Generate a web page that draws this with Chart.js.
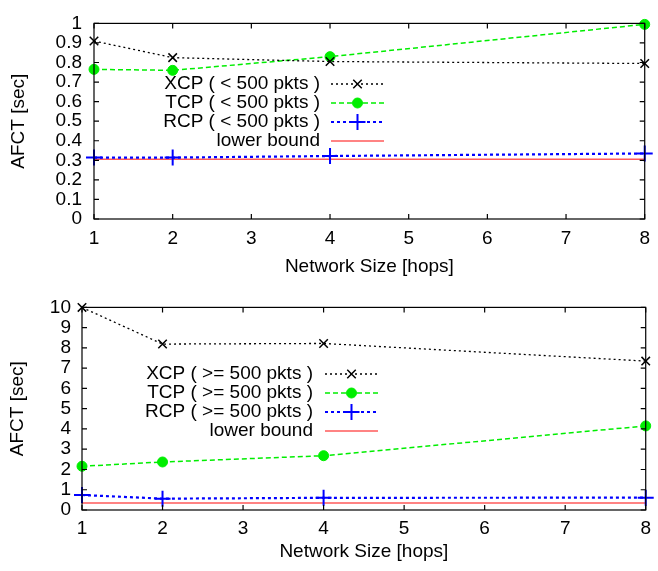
<!DOCTYPE html>
<html>
<head>
<meta charset="utf-8">
<script src="https://cdn.jsdelivr.net/npm/chart.js@4.4.1/dist/chart.umd.min.js"></script>
<style>
  html, body { margin: 0; padding: 0; background: #fff; }
  .box { position: absolute; left: 0; }
</style>
</head>
<body>
<div class="box" style="top:0"><canvas id="smallChart" width="658" height="285"></canvas></div>
<div class="box" style="top:285px"><canvas id="largeChart" width="658" height="286"></canvas></div>
<script>
// dados
const hops = [1, 2, 4, 8];
const xTicks = [1, 2, 3, 4, 5, 6, 7, 8];

const xcpSmall = [0.91, 0.825, 0.805, 0.795];
const tcpSmall = [0.765, 0.76, 0.83, 0.995];
const rcpSmall = [0.314, 0.314, 0.322, 0.335];
const lowerSmall = [0.305, 0.305, 0.305, 0.305];
const yTicksSmall = ['0', '0.1', '0.2', '0.3', '0.4', '0.5', '0.6', '0.7', '0.8', '0.9', '1'];

const xcpLarge = [10, 8.19, 8.22, 7.35];
const tcpLarge = [2.16, 2.37, 2.68, 4.15];
const rcpLarge = [0.74, 0.56, 0.6, 0.61];
const lowerLarge = [0.35, 0.35, 0.35, 0.35];
const yTicksLarge = ['0', '1', '2', '3', '4', '5', '6', '7', '8', '9', '10'];

const labelsSmall = ['XCP ( < 500 pkts )', 'TCP ( < 500 pkts )', 'RCP ( < 500 pkts )', 'lower bound'];
const labelsLarge = ['XCP ( >= 500 pkts )', 'TCP ( >= 500 pkts )', 'RCP ( >= 500 pkts )', 'lower bound'];

const FONT = { family: '"Liberation Sans", Arial, sans-serif', size: 19 };

const styles = [
    { color: '#000000', dash: [2, 3], width: 1.3, point: 'crossRot', radius: 6, pw: 1.5 },
    { color: '#00ee00', dash: [5, 3], width: 1.5, point: 'circle', radius: 5, pw: 1 },
    { color: '#0000ff', dash: [3, 3], width: 2.2, point: 'cross', radius: 8, pw: 2 },
    { color: '#ff5a5a', dash: [], width: 1.5, point: false, radius: 0, pw: 1 }
];

function makeDatasets(series, labels) {
    return series.map((vals, i) => {
        const s = styles[i];
        return {
            label: labels[i],
            data: hops.map((h, j) => ({ x: h, y: vals[j] })),
            borderColor: s.color,
            backgroundColor: s.color,
            borderDash: s.dash,
            borderWidth: s.width,
            pointStyle: s.point,
            pointRadius: s.radius,
            pointBorderWidth: s.pw,
            pointBorderColor: s.color,
            pointBackgroundColor: s.color,
            tension: 0,
            clip: false
        };
    });
}

// moldura com ticks para dentro (estilo gnuplot)
const framePlugin = {
    id: 'frame',
    afterDraw(chart) {
        const ctx = chart.ctx, a = chart.chartArea;
        const xs = chart.scales.x, ys = chart.scales.y;
        ctx.save();
        ctx.strokeStyle = '#000';
        ctx.lineWidth = 1.2;
        ctx.setLineDash([]);
        ctx.strokeRect(a.left, a.top, a.right - a.left, a.bottom - a.top);
        const t = 5;
        ctx.beginPath();
        xs.ticks.forEach(tk => {
            const px = xs.getPixelForValue(tk.value);
            ctx.moveTo(px, a.bottom); ctx.lineTo(px, a.bottom - t);
            ctx.moveTo(px, a.top); ctx.lineTo(px, a.top + t);
        });
        ys.ticks.forEach(tk => {
            const py = ys.getPixelForValue(tk.value);
            ctx.moveTo(a.left, py); ctx.lineTo(a.left + t, py);
            ctx.moveTo(a.right, py); ctx.lineTo(a.right - t, py);
        });
        ctx.stroke();
        ctx.restore();
    }
};

// legenda estilo gnuplot
const keyPlugin = {
    id: 'gkey',
    afterDraw(chart, args, opts) {
        const ctx = chart.ctx;
        ctx.save();
        ctx.font = FONT.size + 'px ' + FONT.family;
        ctx.textAlign = 'right';
        ctx.textBaseline = 'middle';
        chart.data.datasets.forEach((ds, i) => {
            const y = opts.top + i * opts.step;
            ctx.fillStyle = '#000';
            ctx.fillText(ds.label, opts.textRight, y);
            const s = styles[i];
            ctx.strokeStyle = s.color;
            ctx.fillStyle = s.color;
            ctx.lineWidth = s.width;
            ctx.setLineDash(s.dash);
            ctx.beginPath();
            ctx.moveTo(opts.lineStart, y);
            ctx.lineTo(opts.lineEnd, y);
            ctx.stroke();
            ctx.setLineDash([]);
            if (s.point) {
                const mx = (opts.lineStart + opts.lineEnd) / 2;
                ctx.lineWidth = s.pw;
                Chart.helpers.drawPoint(ctx, { pointStyle: s.point, radius: s.radius, borderWidth: s.pw, rotation: 0 }, mx, y);
            }
        });
        ctx.restore();
    }
};

function buildChart(id, series, labels, yMax, yStep, yLabels, lay) {
    new Chart(document.getElementById(id), {
        type: 'line',
        data: { datasets: makeDatasets(series, labels) },
        options: {
            responsive: false,
            animation: false,
            layout: { padding: { left: 0, top: lay.top, right: 9, bottom: 0 } },
            plugins: {
                legend: { display: false },
                tooltip: { enabled: false },
                gkey: lay.key
            },
            scales: {
                x: {
                    type: 'linear', min: 1, max: 8,
                    afterBuildTicks: sc => { sc.ticks = xTicks.map(v => ({ value: v })); },
                    afterFit: sc => { sc.height = lay.xh; },
                    grid: { display: false, drawTicks: false, tickLength: 0 },
                    border: { display: false },
                    ticks: { color: '#000', font: FONT, padding: lay.xpad, maxRotation: 0, autoSkip: false, callback: v => String(v) },
                    title: { display: true, text: 'Network Size [hops]', color: '#000', font: FONT, padding: { top: 0, bottom: lay.xtpad } }
                },
                y: {
                    min: 0, max: yMax,
                    afterBuildTicks: sc => { sc.ticks = yLabels.map((l, i) => ({ value: i * yStep })); },
                    afterFit: sc => { sc.width = lay.yw; },
                    grid: { display: false, drawTicks: false, tickLength: 0 },
                    border: { display: false },
                    ticks: { color: '#000', font: FONT, padding: lay.ypad, autoSkip: false, callback: (v, i) => yLabels[i] },
                    title: { display: true, text: 'AFCT [sec]', color: '#000', font: FONT, padding: { top: lay.ytpad, bottom: 0 } }
                }
            }
        },
        plugins: [framePlugin, keyPlugin]
    });
}

buildChart('smallChart', [xcpSmall, tcpSmall, rcpSmall, lowerSmall], labelsSmall, 1, 0.1, yTicksSmall, {
    top: 13, xh: 66, yw: 94, xpad: 8, xtpad: 7, ypad: 12, ytpad: 7,
    key: { top: 84, step: 19, textRight: 320, lineStart: 331, lineEnd: 384 }
});
buildChart('largeChart', [xcpLarge, tcpLarge, rcpLarge, lowerLarge], labelsLarge, 10, 1, yTicksLarge, {
    top: 18, xh: 61, yw: 82, xpad: 7, xtpad: 8, ypad: 11, ytpad: 6,
    key: { top: 89, step: 19, textRight: 313, lineStart: 325, lineEnd: 378 }
});
</script>
</body>
</html>
